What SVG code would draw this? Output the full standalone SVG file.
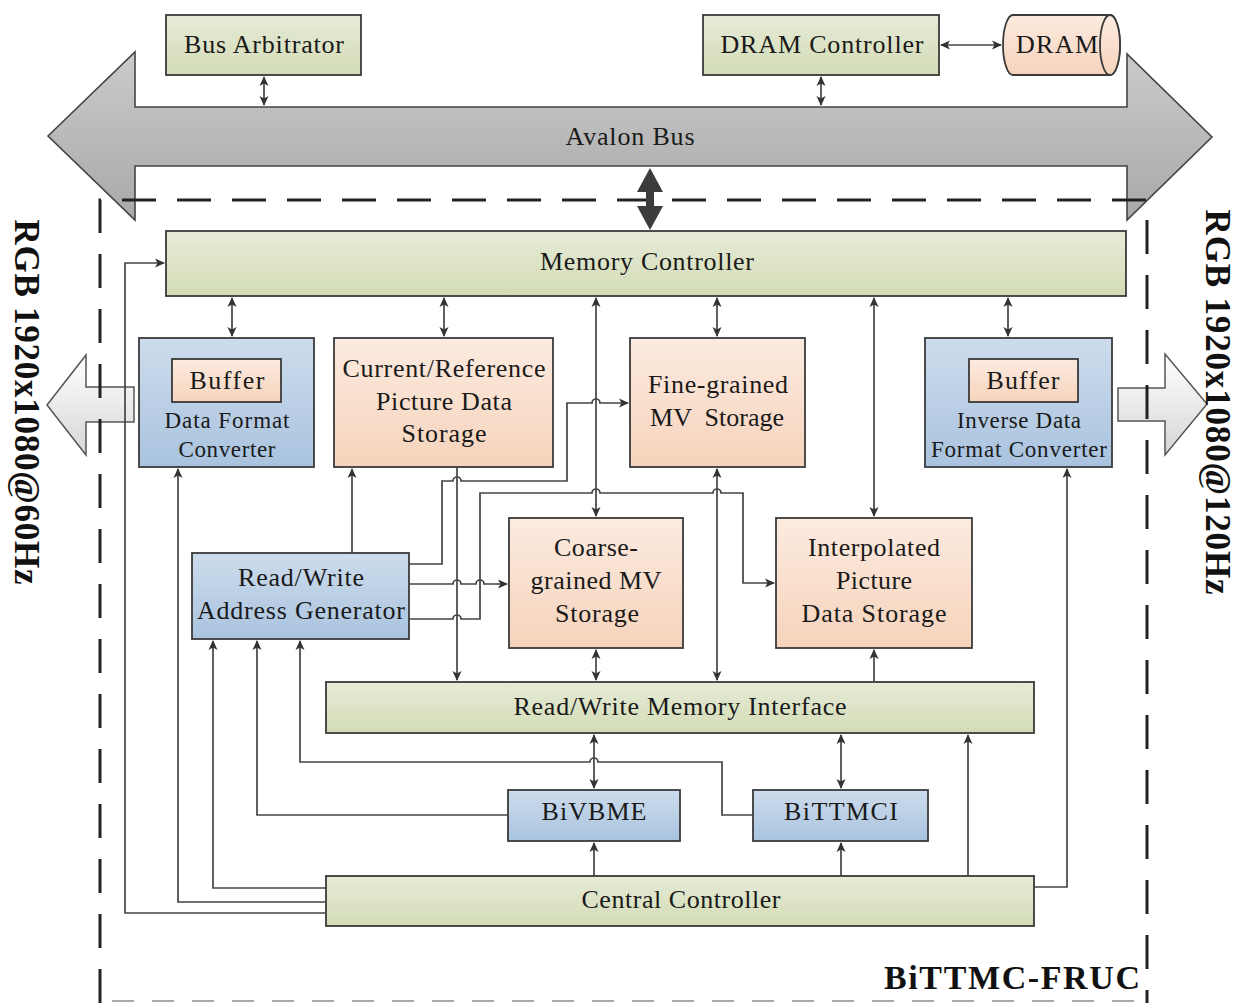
<svg xmlns="http://www.w3.org/2000/svg" width="1236" height="1003" viewBox="0 0 1236 1003">
<defs>
<linearGradient id="gG" x1="0" y1="0" x2="0" y2="1"><stop offset="0" stop-color="#e6ebd7"/><stop offset="1" stop-color="#d3dcb6"/></linearGradient>
<linearGradient id="gP" x1="0" y1="0" x2="0" y2="1"><stop offset="0" stop-color="#fcebe0"/><stop offset="1" stop-color="#f6d3bb"/></linearGradient>
<linearGradient id="gB" x1="0" y1="0" x2="0" y2="1"><stop offset="0" stop-color="#cddcec"/><stop offset="1" stop-color="#a9c3df"/></linearGradient>
<linearGradient id="gBus" x1="0" y1="0" x2="0" y2="1"><stop offset="0" stop-color="#cbcbcb"/><stop offset="1" stop-color="#a8a8a8"/></linearGradient>
<linearGradient id="gW" x1="0" y1="0" x2="0" y2="1"><stop offset="0" stop-color="#ffffff"/><stop offset="1" stop-color="#d6d6d6"/></linearGradient>
<marker id="ah" viewBox="0 0 10 10" refX="9" refY="5" markerWidth="10" markerHeight="10" markerUnits="userSpaceOnUse" orient="auto-start-reverse"><path d="M0,0.5 L10,5 L0,9.5 L2.5,5 z" fill="#333"/></marker>
<style>
.box{stroke:#3a3a3a;stroke-width:1.8}
.g{fill:url(#gG)}
.p{fill:url(#gP)}
.b{fill:url(#gB)}
.t{font-family:"Liberation Serif","Times New Roman",serif;font-size:26px;fill:#1a1a1a;text-anchor:middle}
.s{font-size:23px}
.c{fill:none;stroke:#444;stroke-width:1.7}
.da{marker-start:url(#ah);marker-end:url(#ah)}
.ea{marker-end:url(#ah)}
.bold{font-family:"Liberation Serif","Times New Roman",serif;font-weight:bold;fill:#111}
</style>
</defs>
<rect width="1236" height="1003" fill="#ffffff"/>

<g id="avalon-bus">
<polygon points="48,136 135,52 135,107 1127,107 1127,54 1212,137 1127,220 1127,166 135,166 135,220" fill="url(#gBus)" stroke="#444" stroke-width="1.6"/>
<text class="t" x="630" y="145" textLength="129">Avalon Bus</text>
</g>

<g id="io-arrows">
<polygon points="134,387 86,387 86,355 47,405 86,455 86,422 134,422" fill="url(#gW)" stroke="#555" stroke-width="1.5"/>
<polygon points="1118,388 1165,388 1165,354 1207,404 1165,455 1165,421 1118,421" fill="url(#gW)" stroke="#555" stroke-width="1.5"/>
</g>

<g id="fruc-boundary">
<path d="M100,1003 V200 H1147 V1003" fill="none" stroke="#222" stroke-width="3" stroke-dasharray="34 21"/>
<line x1="112" y1="1001" x2="1147" y2="1001" stroke="#aaa" stroke-width="2" stroke-dasharray="22 18"/>
<text class="bold" x="1140" y="989" font-size="34" text-anchor="end" textLength="256">BiTTMC-FRUC</text>
</g>

<g id="bus-mc-arrow">
<polygon points="650,168 663,192 654,192 654,206 663,206 650,230 637,206 646,206 646,192 637,192" fill="#3c3c3c"/>
</g>

<g id="labels">
<text class="bold" transform="translate(15,402) rotate(90)" font-size="35" text-anchor="middle" textLength="365">RGB 1920x1080@60Hz</text>
<text class="bold" transform="translate(1206,402) rotate(90)" font-size="35" text-anchor="middle" textLength="385">RGB 1920x1080@120Hz</text>
</g>

<g id="bus-arbitrator">
<rect class="box g" x="166" y="15" width="195" height="60"/>
<text class="t" x="264" y="53" textLength="160">Bus Arbitrator</text>
</g>
<g id="dram-controller">
<rect class="box g" x="703" y="15" width="236" height="60"/>
<text class="t" x="822" y="53" textLength="203">DRAM Controller</text>
</g>
<g id="dram">
<path class="box p" d="M1013,15 H1110 A10,30 0 0 1 1110,75 H1013 A10,30 0 0 1 1013,15 Z"/>
<ellipse class="box p" cx="1110" cy="45" rx="10" ry="30"/>
<text class="t" x="1057" y="53" textLength="82">DRAM</text>
</g>

<g id="memory-controller">
<rect class="box g" x="166" y="231" width="960" height="65"/>
<text class="t" x="647" y="270" textLength="214">Memory Controller</text>
</g>

<g id="data-format-converter">
<rect class="box b" x="139" y="338" width="175" height="129"/>
<rect class="box p" x="172" y="359" width="109" height="43"/>
<text class="t" x="227" y="389" textLength="75">Buffer</text>
<text class="t s" x="227" y="428" textLength="125">Data Format</text>
<text class="t s" x="227" y="457" textLength="97">Converter</text>
</g>

<g id="picture-data-storage">
<rect class="box p" x="334" y="338" width="219" height="129"/>
<text class="t" x="444" y="377" textLength="203">Current/Reference</text>
<text class="t" x="444" y="410" textLength="136">Picture Data</text>
<text class="t" x="444" y="442" textLength="85">Storage</text>
</g>

<g id="fine-mv-storage">
<rect class="box p" x="630" y="338" width="175" height="129"/>
<text class="t" x="718" y="393" textLength="140">Fine-grained</text>
<text class="t" x="717" y="426" textLength="134" xml:space="preserve">MV  Storage</text>
</g>

<g id="inverse-data-format-converter">
<rect class="box b" x="925" y="338" width="187" height="129"/>
<rect class="box p" x="969" y="359" width="109" height="43"/>
<text class="t" x="1023" y="389" textLength="73">Buffer</text>
<text class="t s" x="1019" y="428" textLength="124">Inverse Data</text>
<text class="t s" x="1019" y="457" textLength="176">Format Converter</text>
</g>

<g id="address-generator">
<rect class="box b" x="192" y="553" width="217" height="86"/>
<text class="t" x="301" y="586" textLength="126">Read/Write</text>
<text class="t" x="301" y="619" textLength="208">Address Generator</text>
</g>

<g id="coarse-mv-storage">
<rect class="box p" x="509" y="518" width="174" height="130"/>
<text class="t" x="596" y="556" textLength="84">Coarse-</text>
<text class="t" x="596" y="589" textLength="131">grained MV</text>
<text class="t" x="597" y="622" textLength="84">Storage</text>
</g>

<g id="interpolated-storage">
<rect class="box p" x="776" y="518" width="196" height="130"/>
<text class="t" x="874" y="556" textLength="132">Interpolated</text>
<text class="t" x="874" y="589" textLength="76">Picture</text>
<text class="t" x="874" y="622" textLength="145">Data Storage</text>
</g>

<g id="memory-interface">
<rect class="box g" x="326" y="682" width="708" height="51"/>
<text class="t" x="680" y="715" textLength="333">Read/Write Memory Interface</text>
</g>

<g id="bivbme">
<rect class="box b" x="508" y="790" width="172" height="51"/>
<text class="t" x="594" y="820" textLength="105">BiVBME</text>
</g>

<g id="bittmci">
<rect class="box b" x="753" y="790" width="175" height="51"/>
<text class="t" x="841" y="820" textLength="114">BiTTMCI</text>
</g>

<g id="central-controller">
<rect class="box g" x="326" y="876" width="708" height="50"/>
<text class="t" x="681" y="908" textLength="199">Central Controller</text>
</g>

<g id="connectors">
<path class="c da" d="M264,77 V105"/>
<path class="c da" d="M821,77 V105"/>
<path class="c da" d="M941,45 H1001"/>
<path class="c da" d="M232,298 V336"/>
<path class="c da" d="M444,298 V336"/>
<path class="c da" d="M717,298 V336"/>
<path class="c da" d="M1008,298 V336"/>
<path class="c da" d="M596,298 V516"/>
<path class="c da" d="M874,298 V516"/>
<path class="c ea" d="M326,913 H125 V263 H164"/>
<path class="c ea" d="M326,902 H178 V469"/>
<path class="c ea" d="M326,888 H213 V641"/>
<path class="c ea" d="M508,815 H257 V641"/>
<path class="c ea" d="M753,815 H722 V762 H598 A4,4 0 0 0 590,762 H300 V641"/>
<path class="c ea" d="M352,553 V469"/>
<path class="c ea" d="M457,467 V680"/>
<path class="c ea" d="M409,564 H442 V481 H453 A4,4 0 0 1 461,481 H567 V403 H592 A4,4 0 0 1 600,403 H628"/>
<path class="c ea" d="M409,584 H453 A4,4 0 0 1 461,584 H476 A4,4 0 0 1 484,584 H507"/>
<path class="c ea" d="M409,619 H453 A4,4 0 0 1 461,619 H480 V493 H592 A4,4 0 0 1 600,493 H713 A4,4 0 0 1 721,493 H743 V583 H774"/>
<path class="c da" d="M717,469 V680"/>
<path class="c ea" d="M874,682 V650"/>
<path class="c da" d="M596,650 V680"/>
<path class="c da" d="M594,735 V788"/>
<path class="c da" d="M841,735 V788"/>
<path class="c ea" d="M594,876 V843"/>
<path class="c ea" d="M841,876 V843"/>
<path class="c ea" d="M968,876 V735"/>
<path class="c ea" d="M1034,887 H1067 V469"/>
</g>
</svg>
